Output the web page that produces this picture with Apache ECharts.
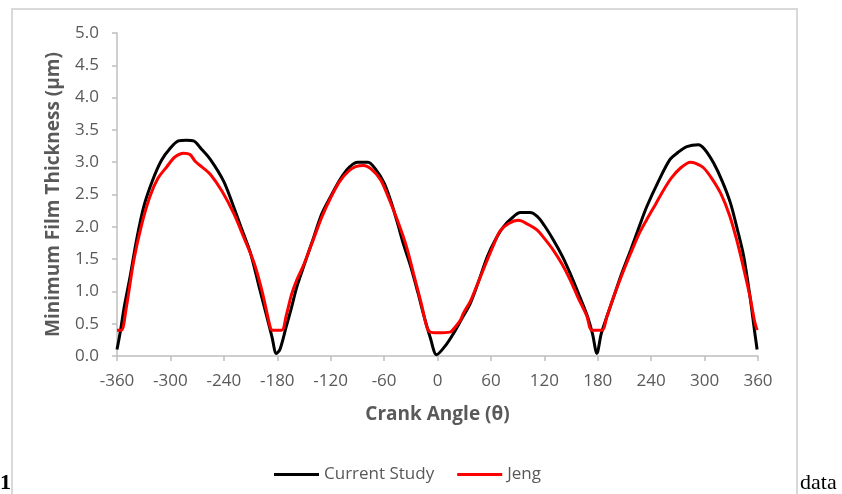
<!DOCTYPE html>
<html>
<head>
<meta charset="utf-8">
<script src="https://cdn.jsdelivr.net/npm/echarts@6/dist/echarts.min.js"></script>
<style>
  html, body { margin: 0; padding: 0; background: #fff; }
  #chart { width: 842px; height: 494px; }
</style>
</head>
<body>
<div id="chart"></div>
<script>
// crank angle (deg) / min film thickness (um)
var currentStudy = [
  [-360, 0.1], [-356, 0.4], [-352, 0.75], [-345, 1.25], [-338, 1.8], [-330, 2.31],
  [-320, 2.72], [-310, 3.03], [-300, 3.22], [-291, 3.33], [-282, 3.34], [-274, 3.33],
  [-265, 3.2], [-255, 3.04], [-240, 2.7], [-229, 2.31], [-220, 1.97], [-210, 1.59],
  [-200, 1.05], [-191, 0.57], [-186, 0.3], [-181, 0.04], [-177, 0.1], [-170, 0.45],
  [-164, 0.75], [-158, 1.07], [-150, 1.4], [-139, 1.84], [-130, 2.2], [-120, 2.47],
  [-110, 2.72], [-102, 2.88], [-95, 2.97], [-90, 3.0], [-78, 3.0], [-70, 2.9],
  [-60, 2.68], [-52, 2.38], [-45, 2.06], [-38, 1.72], [-30, 1.38], [-22, 0.98],
  [-15, 0.61], [-8, 0.28], [-1, 0.02], [10, 0.18], [18, 0.35], [27, 0.57],
  [37, 0.82], [46, 1.15], [56, 1.54], [65, 1.8], [74, 2.0], [84, 2.14],
  [93, 2.22], [104, 2.22], [112, 2.16], [120, 2.02], [130, 1.8], [140, 1.55],
  [149, 1.28], [158, 0.98], [168, 0.63], [174, 0.35], [179, 0.04], [184, 0.35],
  [190, 0.6], [198, 0.92], [207, 1.28], [217, 1.64], [226, 1.98], [235, 2.31],
  [248, 2.7], [261, 3.04], [270, 3.15], [280, 3.24], [293, 3.27], [300, 3.2],
  [310, 2.99], [320, 2.7], [329, 2.37], [337, 1.95], [344, 1.54], [351, 0.92],
  [356, 0.4], [359, 0.1]
];

var jeng = [
  [-360, 0.4], [-355, 0.4], [-350, 0.71], [-341, 1.49], [-332, 2.05], [-323, 2.47],
  [-314, 2.75], [-304, 2.93], [-295, 3.08], [-285, 3.14], [-278, 3.12], [-272, 3.01],
  [-264, 2.92], [-255, 2.81], [-242, 2.55], [-229, 2.21], [-218, 1.85], [-206, 1.44],
  [-197, 1.0], [-188, 0.45], [-186, 0.4], [-175, 0.4], [-170, 0.62], [-164, 0.95],
  [-158, 1.18], [-150, 1.42], [-139, 1.82], [-130, 2.15], [-120, 2.45], [-110, 2.7],
  [-100, 2.86], [-92, 2.93], [-83, 2.95], [-75, 2.9], [-64, 2.73], [-55, 2.45],
  [-45, 2.1], [-35, 1.7], [-27, 1.28], [-18, 0.8], [-12, 0.45], [-8, 0.37],
  [0, 0.36], [14, 0.37], [20, 0.45], [26, 0.56], [29, 0.66], [37, 0.85],
  [46, 1.15], [56, 1.49], [63, 1.72], [70, 1.93], [80, 2.05], [91, 2.1],
  [100, 2.05], [112, 1.95], [120, 1.82], [130, 1.64], [140, 1.42], [149, 1.18],
  [158, 0.9], [168, 0.61], [173, 0.4], [185, 0.4], [190, 0.6], [198, 0.92],
  [207, 1.25], [217, 1.59], [226, 1.88], [235, 2.11], [245, 2.35], [254, 2.57],
  [263, 2.76], [273, 2.91], [284, 3.0], [290, 2.98], [299, 2.91], [308, 2.75],
  [318, 2.52], [328, 2.18], [336, 1.8], [344, 1.35], [351, 0.92], [356, 0.55],
  [359, 0.4]
];

var seriesNames = ['Current Study', 'Jeng'];
var seriesColors = ['#000000', '#ff0000'];

var textGrey = '#595959';
var axisGrey = '#bfbfbf';
var font = '"Open Sans", Lato, sans-serif';

var chart = echarts.init(document.getElementById('chart'));

var option = {
  animation: false,
  backgroundColor: '#fff',
  grid: {
    left: 117,
    right: 84,
    top: 33,
    bottom: 138
  },
  legend: {
    left: 269,
    top: 461,
    itemGap: 23,
    itemWidth: 45,
    itemHeight: 3,
    icon: 'rect',
    data: seriesNames,
    textStyle: { color: textGrey, fontSize: 17, fontFamily: font }
  },
  xAxis: {
    type: 'value',
    min: -360,
    max: 360,
    interval: 60,
    name: 'Crank Angle (θ)',
    nameLocation: 'middle',
    nameGap: 49,
    nameTextStyle: { color: textGrey, fontSize: 19, fontWeight: 'bold', fontFamily: font },
    axisLine: { onZero: false, lineStyle: { color: axisGrey, width: 1.5 } },
    axisTick: { show: true, length: 5, lineStyle: { color: axisGrey, width: 1.5 } },
    axisLabel: { color: textGrey, fontSize: 17, fontFamily: font, margin: 17 },
    splitLine: { show: false }
  },
  yAxis: {
    type: 'value',
    min: 0,
    max: 5,
    interval: 0.5,
    name: 'Minimum Film Thickness (µm)',
    nameLocation: 'middle',
    nameGap: 54,
    nameTextStyle: { color: textGrey, fontSize: 19, fontWeight: 'bold', fontFamily: font },
    axisLine: { show: true, onZero: false, lineStyle: { color: axisGrey, width: 1.5 } },
    axisTick: { show: true, length: 5, lineStyle: { color: axisGrey, width: 1.5 } },
    axisLabel: {
      color: textGrey, fontSize: 17, fontFamily: font, margin: 18,
      formatter: function (v) { return v.toFixed(1); }
    },
    splitLine: { show: false }
  },
  graphic: [
    {
      type: 'rect',
      shape: { x: 12, y: 9, width: 785, height: 500 },
      style: { fill: 'none', stroke: '#d9d9d9', lineWidth: 2 },
      silent: true
    },
    {
      type: 'text',
      left: 0,
      top: 472,
      style: { text: '1', font: 'bold 22px "Liberation Serif", serif', fill: '#000' }
    },
    {
      type: 'text',
      left: 800,
      top: 472,
      style: { text: 'data', font: '22px "Liberation Serif", serif', fill: '#000' }
    }
  ],
  series: [
    {
      name: seriesNames[0],
      type: 'line',
      data: currentStudy,
      showSymbol: false,
      smooth: 0.3,
      color: seriesColors[0],
      lineStyle: { color: seriesColors[0], width: 3 },
      z: 2
    },
    {
      name: seriesNames[1],
      type: 'line',
      data: jeng,
      showSymbol: false,
      smooth: 0.3,
      color: seriesColors[1],
      lineStyle: { color: seriesColors[1], width: 3 },
      z: 3
    }
  ]
};

chart.setOption(option);
</script>
</body>
</html>
